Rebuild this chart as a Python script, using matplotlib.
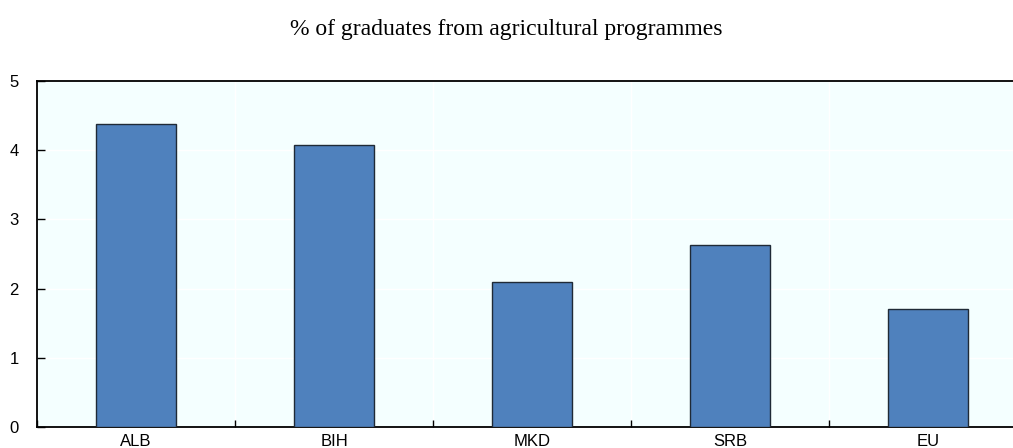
import numpy as np
import matplotlib.pyplot as plt

# values
countries = ["ALB", "BIH", "MKD", "SRB", "EU"]
share = [4.38, 4.08, 2.10, 2.63, 1.71]
yticks = [0, 1, 2, 3, 4, 5]

fig = plt.figure(figsize=(10.13, 4.48), dpi=100)
ax = fig.add_axes([37/1013, 21/448, 990/1013, 346/448])
ax.set_facecolor("#F4FFFF")

x = np.arange(len(countries))
ax.bar(x, share, width=0.4, color="#4F81BD", edgecolor="#1F2A36", linewidth=1, zorder=3)

ax.set_xlim(-0.5, len(countries) - 0.5)
ax.set_ylim(0, 5)
ax.set_yticks(yticks)
ax.set_yticklabels([str(t) for t in yticks], fontfamily="Liberation Sans", fontsize=12)

# category labels centered, ticks at boundaries
ax.set_xticks(x)
ax.set_xticklabels(countries, fontfamily="Liberation Sans", fontsize=12)
ax.tick_params(axis="x", length=0, pad=5)
ax.set_xticks(np.arange(len(countries) + 1) - 0.5, minor=True)
ax.tick_params(axis="x", which="minor", direction="in", length=5, width=1)
ax.tick_params(axis="y", direction="in", length=6, width=1, pad=13)

# faint white grid
ax.grid(True, axis="y", color="white", linewidth=1, zorder=1)
ax.grid(True, axis="x", which="minor", color="white", linewidth=1, zorder=1)

for s in ["left", "bottom", "top", "right"]:
    ax.spines[s].set_linewidth(1.3)
    ax.spines[s].set_color("black")

fig.text(0.5, 1 - 30/448, "% of graduates from agricultural programmes",
         ha="center", va="center", fontfamily="Liberation Serif", fontsize=17)

fig.savefig("out.png", dpi=100)
